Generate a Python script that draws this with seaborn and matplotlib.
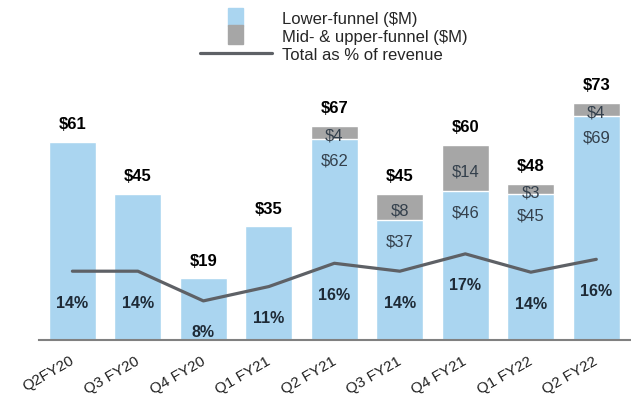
## Grafico de barras apiladas + linea de % ##

import numpy as np
import pandas as pd
import matplotlib
matplotlib.use("Agg")
import matplotlib.pyplot as plt
import matplotlib.patches as mpatches
import matplotlib.transforms as mtransforms
from matplotlib.lines import Line2D
from matplotlib.legend_handler import HandlerPatch
import seaborn as sns

# Datos
trimestres = ['Q2FY20', 'Q3 FY20', 'Q4 FY20', 'Q1 FY21', 'Q2 FY21',
              'Q3 FY21', 'Q4 FY21', 'Q1 FY22', 'Q2 FY22']
lower_funnel = [61, 45, 19, 35, 62, 37, 46, 45, 69]
mid_upper_funnel = [0, 0, 0, 0, 4, 8, 14, 3, 4]
# totales tal como aparecen (redondeados) en el grafico
total_etiqueta = [61, 45, 19, 35, 67, 45, 60, 48, 73]
# % sobre ingresos: etiqueta mostrada y posicion estimada de la linea
pct_etiqueta = [14, 14, 8, 11, 16, 14, 17, 14, 16]
pct_linea = [13.9, 13.9, 7.9, 10.8, 15.5, 13.9, 17.4, 13.7, 16.3]

df = pd.DataFrame({'trimestre': trimestres,
                   'lower': lower_funnel,
                   'mid': mid_upper_funnel,
                   'etiqueta': total_etiqueta})
df['total'] = df['lower'] + df['mid']

# Colores
azul = '#AAD5F0'
gris = '#A6A6A6'
gris_linea = '#5E6166'
texto_oscuro = '#34404C'

sns.set_theme(style='white')
plt.rcParams['font.family'] = ['Liberation Sans', 'DejaVu Sans']

fig = plt.figure(figsize=(6.31, 4.0), dpi=100)
ax = fig.add_axes([39 / 631, 60 / 400, 592 / 631, 0.65])

# Barras: primero el total (gris) y encima la parte lower-funnel (azul)
sns.barplot(data=df, x='trimestre', y='total', color=gris, width=0.72,
            saturation=1, ax=ax)
sns.barplot(data=df, x='trimestre', y='lower', color=azul, width=0.72,
            saturation=1, ax=ax)

ax.set_xlim(-0.51, 8.53)
ax.set_ylim(0, 80)
ax.set_xlabel('')
ax.set_ylabel('')
ax.set_yticks([])
for lado in ['top', 'left', 'right']:
    ax.spines[lado].set_visible(False)
ax.spines['bottom'].set_color('#808080')
ax.spines['bottom'].set_linewidth(1.5)
ax.tick_params(axis='x', length=0, pad=10)
ax.set_xticks(range(len(trimestres)))
ax.set_xticklabels(trimestres, rotation=30, ha='right', rotation_mode='anchor',
                   fontsize=11, color='#222222')
# pequeño desplazamiento a la izquierda de las etiquetas del eje x
desplaz = mtransforms.ScaledTranslation(-3 / 100, 0, fig.dpi_scale_trans)
for lbl in ax.get_xticklabels():
    lbl.set_transform(lbl.get_transform() + desplaz)

# Etiquetas de las barras
for i, fila in df.iterrows():
    ax.annotate('${}'.format(fila['etiqueta']), (i, fila['total']),
                xytext=(0, 7), textcoords='offset points', ha='center',
                va='bottom', fontsize=12, fontweight='bold', color='black')
    if fila['mid'] > 0:
        ax.annotate('${}'.format(fila['lower']), (i, fila['lower']),
                    xytext=(0, -16), textcoords='offset points', ha='center',
                    va='center', fontsize=12, color=texto_oscuro)
        ax.annotate('${}'.format(fila['mid']), (i, fila['lower'] + fila['mid'] / 2),
                    xytext=(0, -3), textcoords='offset points', ha='center',
                    va='center', fontsize=12, color=texto_oscuro)

# Linea de % sobre ingresos en eje secundario
ax2 = ax.twinx()
ax2.set_ylim(0, 260 / 4.95)
x_pos = np.arange(len(trimestres))
sns.lineplot(x=x_pos, y=pct_linea, color=gris_linea, linewidth=2.3, ax=ax2)
ax2.set_axis_off()
for i, p in enumerate(pct_etiqueta):
    ax2.annotate('{}%'.format(p), (x_pos[i], pct_linea[i]),
                 xytext=(0, -23), textcoords='offset points', ha='center',
                 va='center', fontsize=11.5, fontweight='bold', color='#1E2A36')


# Leyenda: parches estrechos apilados
def parche_estrecho(legend, orig_handle, xdescent, ydescent, width, height, fontsize):
    ancho = 11
    alto = 13.2
    return mpatches.Rectangle((-xdescent + (width - ancho) / 2,
                               -ydescent + height / 2 - alto / 2 + 1.2),
                              ancho, alto)


handles = [mpatches.Patch(color=azul), mpatches.Patch(color=gris),
           Line2D([0], [0], color=gris_linea, linewidth=2.3)]
etiquetas = ['Lower-funnel ($M)', 'Mid- & upper-funnel ($M)', 'Total as % of revenue']
fig.legend(handles, etiquetas, loc='upper left', bbox_to_anchor=(200 / 631, 1 - 11 / 400),
           frameon=False, fontsize=12, handlelength=4.3, handleheight=1.0,
           labelspacing=0.1, handletextpad=0.6, borderpad=0, borderaxespad=0,
           handler_map={mpatches.Patch: HandlerPatch(patch_func=parche_estrecho)})

fig.savefig('out.png', dpi=100)
